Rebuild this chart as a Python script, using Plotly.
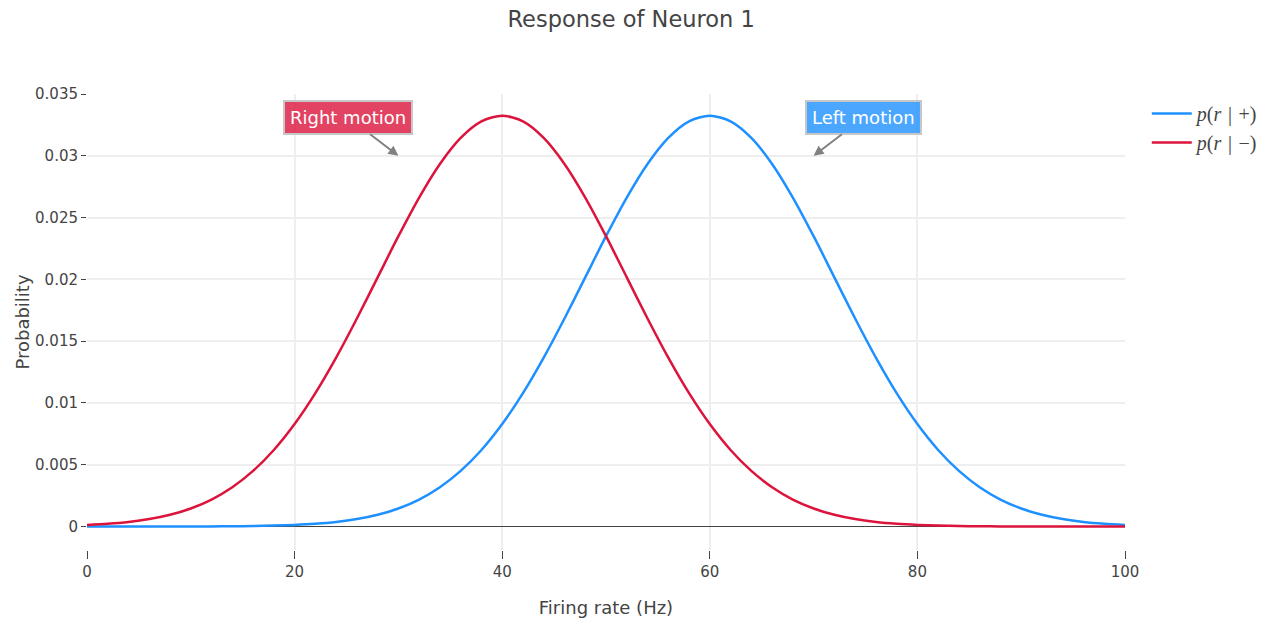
import plotly.graph_objects as go

firing_rate = [0, 2, 4, 6, 8, 10, 12, 14, 16, 18, 20, 22, 24, 26, 28, 30, 32, 34, 36, 38, 40,
               42, 44, 46, 48, 50, 52, 54, 56, 58, 60, 62, 64, 66, 68, 70, 72, 74, 76, 78, 80,
               82, 84, 86, 88, 90, 92, 94, 96, 98, 100]

p_minus = [0.000129, 0.000221, 0.000369, 0.000601, 0.000950, 0.001461, 0.002185, 0.003180,
           0.004499, 0.006193, 0.008290, 0.010793, 0.013667, 0.016833, 0.020164, 0.023493,
           0.026621, 0.029339, 0.031449, 0.032787, 0.033245, 0.032787, 0.031449, 0.029339,
           0.026621, 0.023493, 0.020164, 0.016833, 0.013667, 0.010793, 0.008290, 0.006193,
           0.004499, 0.003180, 0.002185, 0.001461, 0.000950, 0.000601, 0.000369, 0.000221,
           0.000129, 0.0000727, 0.0000400, 0.0000214, 0.0000111, 0.0000056, 0.0000028,
           0.0000013, 0.0000006, 0.0000003, 0.0000001]

p_plus = [0.0000001, 0.0000003, 0.0000006, 0.0000013, 0.0000028, 0.0000056, 0.0000111,
          0.0000214, 0.0000400, 0.0000727, 0.000129, 0.000221, 0.000369, 0.000601, 0.000950,
          0.001461, 0.002185, 0.003180, 0.004499, 0.006193, 0.008290, 0.010793, 0.013667,
          0.016833, 0.020164, 0.023493, 0.026621, 0.029339, 0.031449, 0.032787, 0.033245,
          0.032787, 0.031449, 0.029339, 0.026621, 0.023493, 0.020164, 0.016833, 0.013667,
          0.010793, 0.008290, 0.006193, 0.004499, 0.003180, 0.002185, 0.001461, 0.000950,
          0.000601, 0.000369, 0.000221, 0.000129]

series_names = ["<i>p</i>(<i>r</i> \u200a|\u200a +)", "<i>p</i>(<i>r</i> \u200a|\u200a \u2212)"]
annotation_texts = ["Right motion", "Left motion"]
annotation_x = [30, 70]
annotation_y = [0.03, 0.03]

BLUE = "#1E90FF"
RED = "#DC143C"
FONT = "DejaVu Sans, Verdana, sans-serif"

fig = go.Figure()
fig.add_trace(go.Scatter(x=firing_rate, y=p_plus, mode="lines", name=series_names[0],
                         line=dict(color=BLUE, width=2.5, shape="spline", smoothing=0.8)))
fig.add_trace(go.Scatter(x=firing_rate, y=p_minus, mode="lines", name=series_names[1],
                         line=dict(color=RED, width=2.5, shape="spline", smoothing=0.8)))

ann_style = dict(showarrow=True, arrowhead=2, arrowsize=1, arrowwidth=2, arrowcolor="#808080",
                 bordercolor="#c7c7c7", borderwidth=2, borderpad=5,
                 font=dict(color="white", size=18, family=FONT))
fig.add_annotation(x=annotation_x[0], y=annotation_y[0], text=annotation_texts[0],
                   ax=-50, ay=-38, bgcolor="rgba(220,20,60,0.8)", **ann_style)
fig.add_annotation(x=annotation_x[1], y=annotation_y[1], text=annotation_texts[1],
                   ax=50, ay=-38, bgcolor="rgba(30,144,255,0.8)", **ann_style)

fig.update_layout(
    width=1275, height=626,
    template="none",
    paper_bgcolor="white", plot_bgcolor="white",
    font=dict(family=FONT, color="#444", size=15),
    title=dict(text="Response of Neuron 1", x=0.495, xanchor="center", y=0.97, yanchor="middle",
               font=dict(size=22.5, color="#444")),
    margin=dict(l=87, r=149, t=94, b=76),
    legend=dict(x=1.02, y=1, xanchor="left", yanchor="top", itemwidth=40,
                font=dict(family="Liberation Serif, serif", size=20, color="#444")),
    xaxis=dict(title=dict(text="Firing rate (Hz)", font=dict(size=18)), range=[0, 100],
               tickvals=[0, 20, 40, 60, 80, 100], ticks="outside", ticklen=8, tickcolor="#444",
               showgrid=True, gridcolor="#eee", gridwidth=2, zeroline=False, showline=False,
               tickfont=dict(size=15)),
    yaxis=dict(title=dict(text="Probability", font=dict(size=18)), range=[-0.0019, 0.035],
               tickvals=[0, 0.005, 0.01, 0.015, 0.02, 0.025, 0.03, 0.035],
               ticktext=["0", "0.005", "0.01", "0.015", "0.02", "0.025", "0.03", "0.035"],
               ticks="outside", ticklen=5, tickcolor="#444",
               showgrid=True, gridcolor="#eee", gridwidth=2,
               zeroline=True, zerolinecolor="#444", zerolinewidth=1, showline=False,
               tickfont=dict(size=15)),
)

fig.write_html("out.html")
